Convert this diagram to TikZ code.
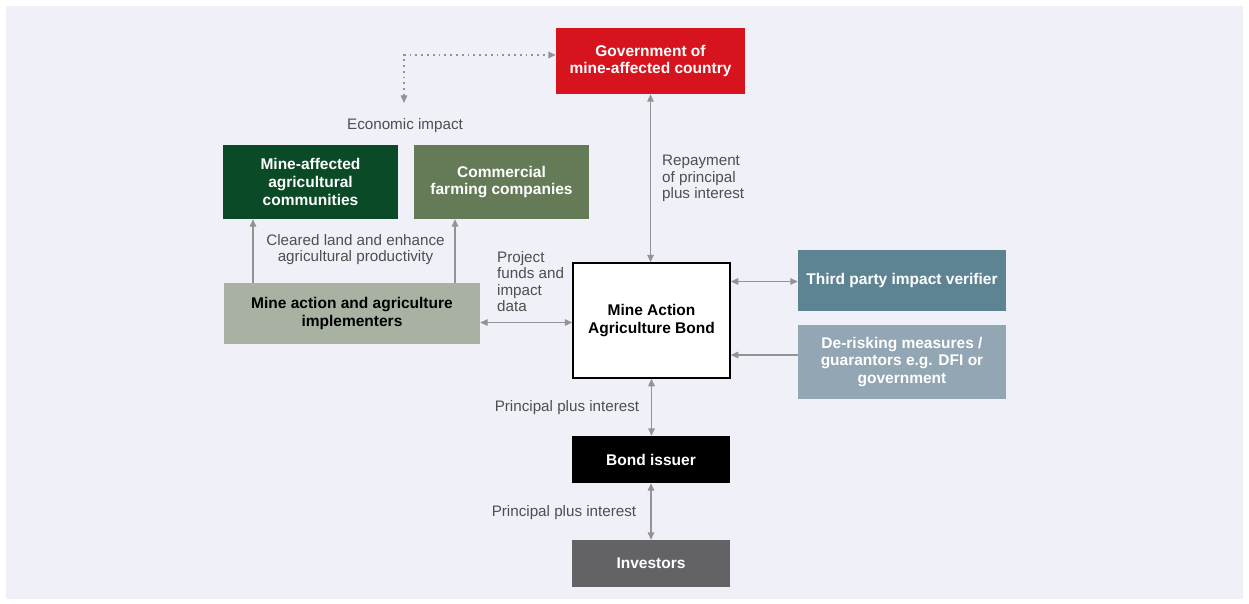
\documentclass[tikz,border=0pt]{standalone}
\usepackage{fontspec}
\setmainfont{Liberation Sans}
\usetikzlibrary{arrows.meta,calc}

\definecolor{panelbg}{HTML}{EFF0F8}
\definecolor{govred}{HTML}{D7141E}
\definecolor{darkgreen}{HTML}{0A4A26}
\definecolor{farmgreen}{HTML}{657B58}
\definecolor{implgray}{HTML}{A9B2A2}
\definecolor{verteal}{HTML}{5E8494}
\definecolor{riskblue}{HTML}{93A6B4}
\definecolor{investgray}{HTML}{636265}
\definecolor{linkgray}{HTML}{939393}
\definecolor{labelgray}{HTML}{4F4F4F}

\tikzset{
  box/.style={rectangle, inner sep=0pt, align=center, text=white,
    font=\fontsize{15.5}{17.6}\selectfont\bfseries},
  lbl/.style={inner sep=0pt, text=labelgray,
    font=\fontsize{15.2}{16.5}\selectfont},
  link/.style={draw=linkgray, line width=1.4pt,
    arrows={-}, >={Triangle[length=7.5pt,width=6.5pt]}},
  dotlink/.style={link, dash pattern=on 1.8pt off 4pt}
}

\begin{document}
\begin{tikzpicture}[x=1pt,y=-1pt]
  % canvas and light panel
  \fill[white] (0,0) rectangle (1249,604);
  \fill[panelbg] (6,6) rectangle (1243,599);
  \useasboundingbox (0,0) rectangle (1249,604);

  % boxes
  \node[box, fill=govred, minimum width=189pt, minimum height=66pt]
    (gov) at (650.5,61) {Government of\\mine-affected country};
  \node[box, fill=darkgreen, minimum width=175pt, minimum height=74pt]
    (comm) at (310.5,182) {Mine-affected\\agricultural\\communities};
  \node[box, fill=farmgreen, minimum width=175pt, minimum height=74pt]
    (farm) at (501.5,182) {Commercial\\farming companies};
  \node[box, fill=implgray, text=black, minimum width=256pt, minimum height=61pt]
    (impl) at (352,313.5) {Mine action and agriculture\\implementers};
  \node[box, fill=white, draw=black, line width=1.5pt, text=black,
    minimum width=157pt, minimum height=115pt]
    (bond) at (651.5,320.5) {Mine Action\\Agriculture Bond};
  \node[box, fill=verteal, minimum width=208pt, minimum height=61pt]
    (ver) at (902,280.5) {Third party impact verifier};
  \node[box, fill=riskblue, minimum width=208pt, minimum height=74pt]
    (risk) at (902,362) {De-risking measures /\\guarantors e.g. DFI or\\government};
  \node[box, fill=black, minimum width=158pt, minimum height=47pt]
    (issuer) at (651,459.5) {Bond issuer};
  \node[box, fill=investgray, minimum width=158pt, minimum height=47pt]
    (inv) at (651,563.5) {Investors};

  % economic impact loop
  \coordinate (ecotip) at (404,103);
  \draw[dotlink,<->] (ecotip) |- ([yshift=6pt]gov.west);

  % connectors
  \draw[link,<->] (gov.south) -- (gov.south |- bond.north);
  \draw[link,->] ([xshift=-99pt]impl.north) -- ([xshift=-99pt]impl.north |- comm.south);
  \draw[link,->] ([xshift=103pt]impl.north) -- ([xshift=103pt]impl.north |- farm.south);
  \draw[link,<->] ([yshift=-9pt]impl.east) -- ([yshift=-9pt]impl.east -| bond.west);
  \draw[link,<->] ([yshift=-1pt]ver.west -| bond.east) -- ([yshift=-1pt]ver.west);
  \draw[link,->] ([yshift=7pt]risk.west) -- ([yshift=7pt]risk.west -| bond.east);
  \draw[link,<->] (bond.south) -- (bond.south |- issuer.north);
  \draw[link,<->] (issuer.south) -- (issuer.south |- inv.north);

  % labels
  \node[lbl] (lecon) at (405,126) {Economic impact};
  \node[lbl, align=left, anchor=north west] (lrepay) at (662,155)
    {Repayment\\of principal\\plus interest};
  \node[lbl, align=center] (lclear) at (355.5,249.5)
    {Cleared land and enhance\\agricultural productivity};
  \node[lbl, align=left, anchor=north west] (lfunds) at (497,251)
    {Project\\funds and\\impact\\data};
  \node[lbl] (lpi1) at (567,408) {Principal plus interest};
  \node[lbl] (lpi2) at (564,513) {Principal plus interest};
\end{tikzpicture}
\end{document}
